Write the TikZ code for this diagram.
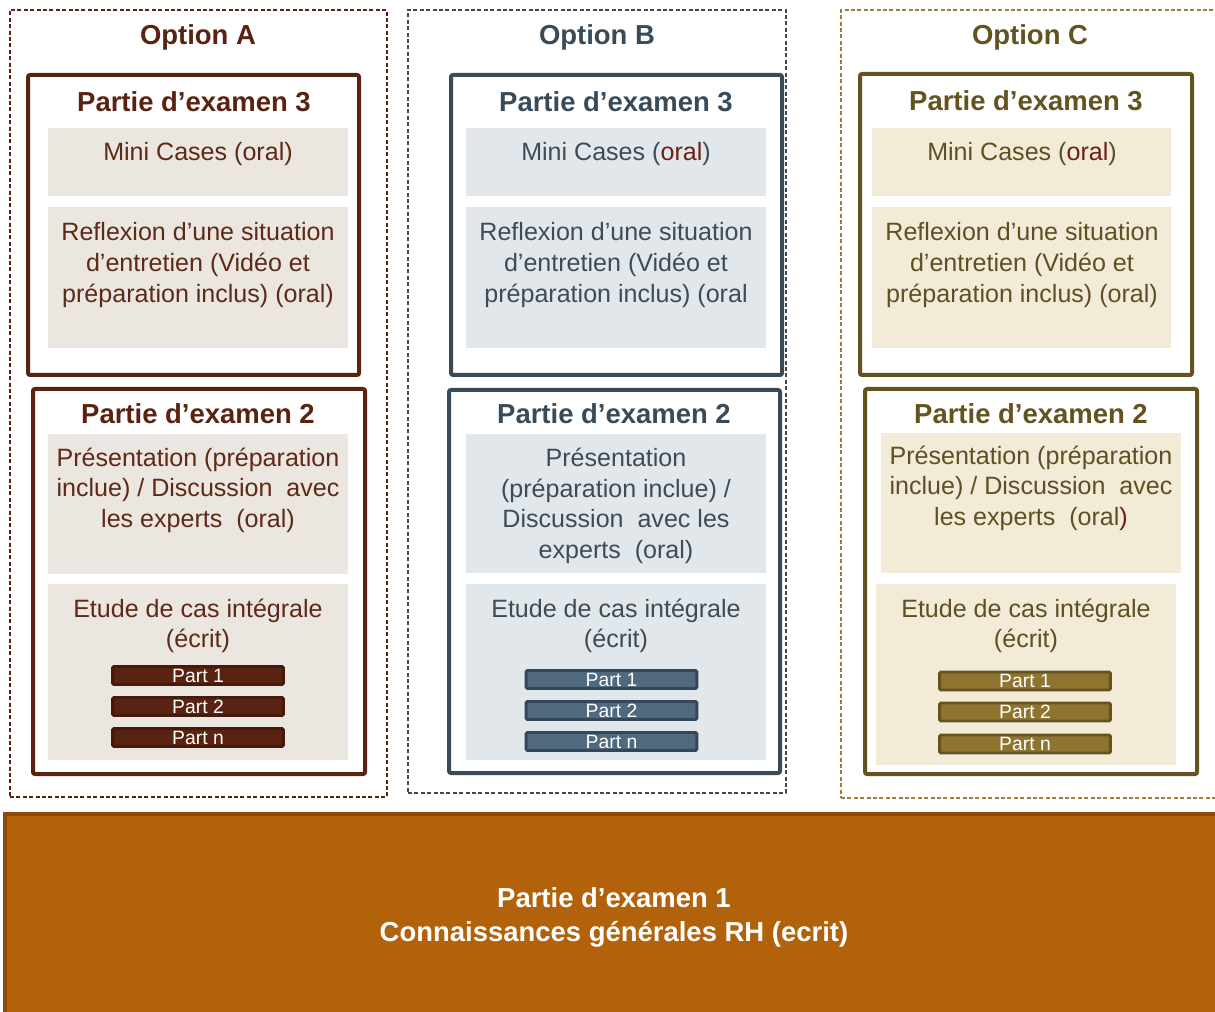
\documentclass[tikz,border=0pt]{standalone}
\usepackage{fontspec}
\setmainfont{Liberation Sans}
\usetikzlibrary{fit}
\definecolor{aD}{HTML}{5A2210}
\definecolor{aT}{HTML}{5E2A18}
\definecolor{aF}{HTML}{EBE6DF}
\definecolor{aB}{HTML}{5A2210}
\definecolor{aBd}{HTML}{45190B}
\definecolor{bD}{HTML}{394B58}
\definecolor{bT}{HTML}{3D4C57}
\definecolor{bF}{HTML}{E1E7EB}
\definecolor{bB}{HTML}{4F6A7E}
\definecolor{bBd}{HTML}{34475A}
\definecolor{cD}{HTML}{64531F}
\definecolor{cT}{HTML}{5F4F22}
\definecolor{cF}{HTML}{F2EBD8}
\definecolor{cB}{HTML}{8F7331}
\definecolor{cBd}{HTML}{65531F}
\definecolor{cFrame}{HTML}{9A7F3C}
\definecolor{oralred}{HTML}{6E1F12}
\definecolor{orangeF}{HTML}{B2620A}
\definecolor{orangeD}{HTML}{8A4A08}
\begin{document}
\begin{tikzpicture}[x=0.75pt,y=-0.75pt,
  frame/.style={draw, dash pattern=on 3pt off 1.8pt, line width=1.2pt, inner sep=0pt},
  partbox/.style={draw, line width=3pt, rounded corners=1.5pt, inner sep=0pt, fill=white},
  inbox/.style={draw=none, inner sep=0pt},
  hd/.style={font=\bfseries\fontsize{20.6}{24}\selectfont, inner sep=0pt},
  body/.style={align=center, font=\fontsize{18.8}{22.9}\selectfont, inner sep=0pt},
  bar/.style={draw, line width=2.2pt, rounded corners=1pt, minimum width=128pt, minimum height=13.5pt, font=\fontsize{14.5}{15}\selectfont, text=white, inner sep=0pt}
]
\useasboundingbox (0,0) rectangle (1215,1012);

% ---------- Option A ----------
\node[frame, draw=aD, fit={(10,10)(387,797)}] (fA) {};
\node[hd, text=aD] (tA) at (198,37) {Option A};
\node[partbox, draw=aD, fit={(28,75)(359,375)}] (a3) {};
\node[hd, text=aD] (a3t) at (194,101.5) {Partie d’examen 3};
\node[inbox, fill=aF, fit={(48,128)(348,196)}] (a3m) {};
\node[body, text=aT] (a3mt) at (198,154) {Mini Cases (oral)};
\node[inbox, fill=aF, fit={(48,207)(348,348)}] (a3r) {};
\node[body, text=aT] (a3rt) at (198,265) {Reflexion d’une situation\\d’entretien (Vidéo et\\préparation inclus) (oral)};
\node[partbox, draw=aD, fit={(33,389)(365,774)}] (a2) {};
\node[hd, text=aD] (a2t) at (198,413.5) {Partie d’examen 2};
\node[inbox, fill=aF, fit={(48,434)(348,574)}] (a2p) {};
\node[body, text=aT] (a2pt) at (198,490) {Présentation (préparation\\inclue) / Discussion~ avec\\les experts~ (oral)};
\node[inbox, fill=aF, fit={(48,584)(348,760)}] (a2e) {};
\node[body, text=aT] (a2et) at (198,626) {Etude de cas intégrale\\(écrit)};
\node[bar, draw=aBd, fill=aB] (a2b1) at (198,675.5) {Part 1};
\node[bar, draw=aBd, fill=aB] (a2b2) at (198,706.5) {Part 2};
\node[bar, draw=aBd, fill=aB] (a2b3) at (198,737.5) {Part n};

% ---------- Option B ----------
\node[frame, draw=bD, fit={(408,10)(786,793)}] (fB) {};
\node[hd, text=bD] (tB) at (597,37) {Option B};
\node[partbox, draw=bD, fit={(451,75)(782,375)}] (b3) {};
\node[hd, text=bD] (b3t) at (616,101.5) {Partie d’examen 3};
\node[inbox, fill=bF, fit={(466,128)(766,196)}] (b3m) {};
\node[body, text=bT] (b3mt) at (616,154) {Mini Cases (\textcolor{oralred}{oral})};
\node[inbox, fill=bF, fit={(466,207)(766,348)}] (b3r) {};
\node[body, text=bT] (b3rt) at (616,265) {Reflexion d’une situation\\d’entretien (Vidéo et\\préparation inclus) (oral};
\node[partbox, draw=bD, fit={(449,390)(780,773)}] (b2) {};
\node[hd, text=bD] (b2t) at (614,413.5) {Partie d’examen 2};
\node[inbox, fill=bF, fit={(466,434)(766,573)}] (b2p) {};
\node[body, text=bT] (b2pt) at (616,506) {Présentation\\(préparation inclue) /\\Discussion~ avec les\\experts~ (oral)};
\node[inbox, fill=bF, fit={(466,584)(766,760)}] (b2e) {};
\node[body, text=bT] (b2et) at (616,626) {Etude de cas intégrale\\(écrit)};
\node[bar, draw=bBd, fill=bB] (b2b1) at (611.5,679.5) {Part 1};
\node[bar, draw=bBd, fill=bB] (b2b2) at (611.5,710.5) {Part 2};
\node[bar, draw=bBd, fill=bB] (b2b3) at (611.5,741.5) {Part n};

% ---------- Option C ----------
\node[frame, draw=cFrame, fit={(841,10)(1222,798)}] (fC) {};
\node[hd, text=cD] (tC) at (1030,37) {Option C};
\node[partbox, draw=cD, fit={(860,74)(1192,375)}] (c3) {};
\node[hd, text=cD] (c3t) at (1026,100.5) {Partie d’examen 3};
\node[inbox, fill=cF, fit={(872,128)(1171,196)}] (c3m) {};
\node[body, text=cT] (c3mt) at (1022,154) {Mini Cases (\textcolor{oralred}{oral})};
\node[inbox, fill=cF, fit={(872,207)(1171,348)}] (c3r) {};
\node[body, text=cT] (c3rt) at (1022,265) {Reflexion d’une situation\\d’entretien (Vidéo et\\préparation inclus) (oral)};
\node[partbox, draw=cD, fit={(865,389)(1197,774)}] (c2) {};
\node[hd, text=cD] (c2t) at (1031,413.5) {Partie d’examen 2};
\node[inbox, fill=cF, fit={(881,433)(1181,573)}] (c2p) {};
\node[body, text=cT] (c2pt) at (1031,488) {Présentation (préparation\\inclue) / Discussion~ avec\\les experts~ (oral\textcolor{oralred}{)}};
\node[inbox, fill=cF, fit={(876,584)(1176,765)}] (c2e) {};
\node[body, text=cT] (c2et) at (1026,626) {Etude de cas intégrale\\(écrit)};
\node[bar, draw=cBd, fill=cB] (c2b1) at (1025,681) {Part 1};
\node[bar, draw=cBd, fill=cB] (c2b2) at (1025,712) {Part 2};
\node[bar, draw=cBd, fill=cB] (c2b3) at (1025,744) {Part n};

% ---------- Partie 1 ----------
\node[draw=orangeD, fill=orangeF, line width=2.5pt, inner sep=0pt, fit={(5,814)(1225,1020)}] (p1) {};
\node[font=\bfseries\fontsize{20.6}{25.5}\selectfont, text=white, align=center, inner sep=0pt] (p1t) at (614,917) {Partie d’examen 1\\Connaissances générales RH (ecrit)};
\end{tikzpicture}
\end{document}
